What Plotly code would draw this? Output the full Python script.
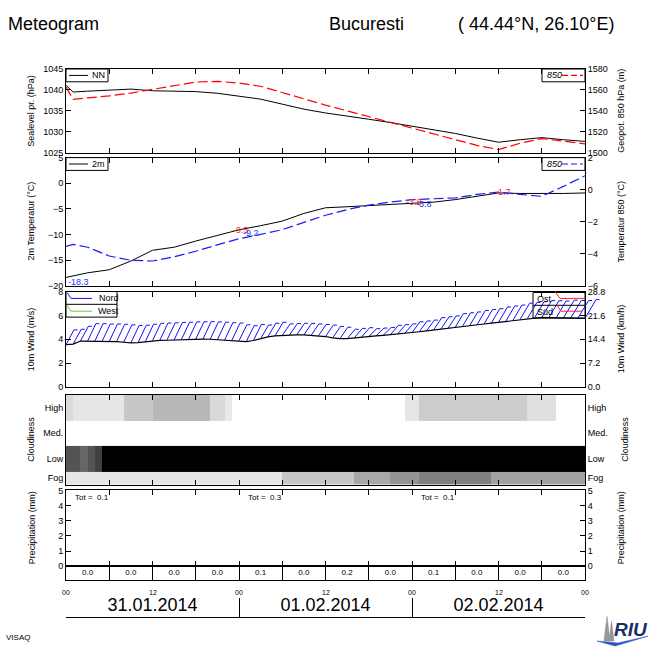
import math
import plotly.graph_objects as go

W = H = 650
FONT = "Liberation Sans, Arial, Helvetica, sans-serif"


def fx(x):
    return x / W


def fy(y):
    return 1 - y / H


# ---------------- data ----------------
hours = [0, 1, 3, 6, 9, 12, 15, 18, 21, 24, 27, 30, 33, 36, 39, 42, 45, 48, 51, 54, 57, 60, 63, 66, 69, 72]
slp_nn = [1041.1, 1039.5, 1039.7, 1040.0, 1040.2, 1039.8, 1039.7, 1039.6, 1039.2, 1038.5, 1037.8, 1036.6, 1035.4,
          1034.5, 1033.8, 1033.0, 1032.2, 1031.3, 1030.5, 1029.6, 1028.5, 1027.5, 1028.1, 1028.6, 1028.1, 1027.7]
geopot_850 = [1562.8, 1551.0, 1552.4, 1554.3, 1557.0, 1560.5, 1564.0, 1567.5, 1568.2, 1566.5, 1563.5, 1557.4, 1551.0,
              1545.5, 1540.0, 1534.5, 1529.0, 1524.2, 1518.0, 1512.5, 1507.0, 1503.0, 1509.0, 1513.5, 1511.0, 1508.5]
t_2m = [-18.4, -18.1, -17.5, -16.9, -15.2, -13.1, -12.5, -11.3, -10.2, -9.1, -8.3, -7.4, -5.9,
        -4.8, -4.6, -4.4, -4.2, -4.0, -3.7, -3.2, -2.5, -1.9, -2.0, -2.05, -2.0, -1.9]
t_850 = [-3.55, -3.42, -3.6, -4.15, -4.42, -4.46, -4.2, -3.85, -3.45, -3.07, -2.8, -2.5, -2.05,
         -1.6, -1.25, -0.97, -0.78, -0.63, -0.57, -0.52, -0.3, -0.15, -0.3, -0.42, 0.2, 0.87]

temp_label_hours = [0.0, 24.3, 25.6, 48.3, 49.6, 60.6]
temp_label_values = [-19.2, -9.1, -9.7, -3.65, -4.1, -1.75]
temp_label_texts = ["-18.3", "-9.5", "-9.2", "-3.8", "-3.8", "-1.7"]
temp_label_colors = ["#2233ff", "#ff2222", "#2233ff", "#ff2222", "#2233ff", "#ff2222"]

wind_hours = list(range(73))
wind_speed = [3.55, 3.6, 3.85, 3.85, 3.85, 3.82, 3.82, 3.8, 3.75, 3.7,
              3.72, 3.8, 3.88, 3.9, 3.92, 3.95, 3.97, 4.0, 4.01, 4.02,
              4.0, 3.97, 3.93, 3.9, 3.88, 3.8, 3.9, 4.05, 4.2, 4.28,
              4.32, 4.35, 4.37, 4.37, 4.33, 4.28, 4.23, 4.12, 4.05, 4.05,
              4.12, 4.18, 4.23, 4.28, 4.33, 4.38, 4.44, 4.5, 4.56, 4.63,
              4.7, 4.78, 4.85, 4.92, 5.0, 5.07, 5.14, 5.2, 5.28, 5.35,
              5.42, 5.5, 5.58, 5.67, 5.73, 5.79, 5.83, 5.82, 5.8, 5.79,
              5.77, 5.76, 5.75]
# wind direction (deg) and feather length, every 3 hours
barb_dir_deg = [28, 25, 25, 25, 25, 25, 25, 25, 26, 30, 34, 34, 34, 40, 45, 40, 36, 33, 30, 30, 30, 30, 30, 31, 30]
barb_len_px = [17, 19.5, 19.5, 19.5, 19.5, 19.5, 19.5, 19.5, 18, 16, 14.2, 14, 14, 12.5, 11.3, 12.5, 13.6, 15, 16.1,
               17, 18, 19, 19.7, 21, 22]

cloud_high = [0.145, 0.10, 0.10, 0.10, 0.10, 0.10, 0.10, 0.10, 0.22, 0.22, 0.22, 0.22,
              0.28, 0.28, 0.28, 0.28, 0.28, 0.28, 0.28, 0.28, 0.15, 0.15, 0.09, 0.0,
              0.0, 0.0, 0.0, 0.0, 0.0, 0.0, 0.0, 0.0, 0.0, 0.0, 0.0, 0.0,
              0.0, 0.0, 0.0, 0.0, 0.0, 0.0, 0.0, 0.0, 0.0, 0.0, 0.0, 0.10,
              0.10, 0.20, 0.20, 0.20, 0.20, 0.20, 0.20, 0.20, 0.20, 0.20, 0.20, 0.20,
              0.20, 0.20, 0.20, 0.20, 0.12, 0.12, 0.12, 0.12, 0.0, 0.0, 0.0, 0.0]
cloud_med = [0.0, 0.0, 0.0, 0.0, 0.0, 0.0, 0.0, 0.0, 0.0, 0.0, 0.0, 0.0,
             0.0, 0.0, 0.0, 0.0, 0.0, 0.0, 0.0, 0.0, 0.0, 0.0, 0.0, 0.0,
             0.0, 0.0, 0.0, 0.0, 0.0, 0.0, 0.0, 0.0, 0.0, 0.0, 0.0, 0.0,
             0.0, 0.0, 0.0, 0.0, 0.0, 0.0, 0.0, 0.0, 0.0, 0.0, 0.0, 0.0,
             0.0, 0.0, 0.0, 0.0, 0.0, 0.0, 0.0, 0.0, 0.0, 0.0, 0.0, 0.0,
             0.0, 0.0, 0.0, 0.0, 0.0, 0.0, 0.0, 0.0, 0.0, 0.0, 0.0, 0.0]
cloud_low = [0.67, 0.67, 0.60, 0.67, 0.75, 1.0, 1.0, 1.0, 1.0, 1.0, 1.0, 1.0,
             1.0, 1.0, 1.0, 1.0, 1.0, 1.0, 1.0, 1.0, 1.0, 1.0, 1.0, 1.0,
             1.0, 1.0, 1.0, 1.0, 1.0, 1.0, 1.0, 1.0, 1.0, 1.0, 1.0, 1.0,
             1.0, 1.0, 1.0, 1.0, 1.0, 1.0, 1.0, 1.0, 1.0, 1.0, 1.0, 1.0,
             1.0, 1.0, 1.0, 1.0, 1.0, 1.0, 1.0, 1.0, 1.0, 1.0, 1.0, 1.0,
             1.0, 1.0, 1.0, 1.0, 1.0, 1.0, 1.0, 1.0, 1.0, 1.0, 1.0, 1.0]
cloud_fog = [0.10, 0.10, 0.10, 0.10, 0.10, 0.10, 0.10, 0.10, 0.10, 0.10, 0.10, 0.10,
             0.10, 0.10, 0.10, 0.10, 0.10, 0.10, 0.10, 0.10, 0.10, 0.10, 0.10, 0.10,
             0.10, 0.10, 0.10, 0.10, 0.10, 0.10, 0.22, 0.22, 0.22, 0.22, 0.22, 0.22,
             0.22, 0.22, 0.22, 0.22, 0.34, 0.34, 0.34, 0.34, 0.34, 0.42, 0.42, 0.42,
             0.42, 0.50, 0.50, 0.50, 0.50, 0.50, 0.50, 0.50, 0.50, 0.50, 0.50, 0.37,
             0.37, 0.37, 0.37, 0.37, 0.37, 0.37, 0.37, 0.37, 0.37, 0.37, 0.37, 0.37]
cloud_edges_h = list(range(73))
cloud_level_edges = [0, 0.5, 1.5, 2.5, 3.5]
cloud_tickvals = [0.25, 1, 2, 3]
cloud_ticktext = ["Fog", "Low", "Med.", "High"]

precip_6h_hours = [3, 9, 15, 21, 27, 33, 39, 45, 51, 57, 63, 69]
precip_6h = [0.0, 0.0, 0.0, 0.0, 0.1, 0.0, 0.2, 0.0, 0.1, 0.0, 0.0, 0.0]
precip_tot_hours = [1, 25, 49]
precip_tot = [0.1, 0.3, 0.1]

date_hours = [12, 36, 60]
date_labels = ["31.01.2014", "01.02.2014", "02.02.2014"]
hour_tick_hours = [0, 12, 24, 36, 48, 60, 72]
hour_tick_labels = ["00", "12", "00", "12", "00", "12", "00"]

# ---------------- layout geometry ----------------
XL, XR = 66, 585
XDOM = [fx(XL), fx(XR)]
PANELS = {1: (65, 150), 2: (155, 285), 3: (291, 388), 4: (396, 487), 5: (493, 570)}
PXH = (XR - XL) / 72.0  # px per hour
PXV = (388 - 291) / 8.0  # px per m/s in wind panel


def ydom(k):
    return [fy(PANELS[k][1]), fy(PANELS[k][0])]


tickfont = dict(family=FONT, size=9, color="black")

fig = go.Figure()

# panel 1: pressure
fig.add_trace(go.Scatter(x=hours, y=slp_nn, mode="lines", line=dict(color="black", width=1),
                         xaxis="x", yaxis="y", showlegend=False))
fig.add_trace(go.Scatter(x=hours, y=geopot_850, mode="lines", line=dict(color="#ff0000", width=1.2, dash="10px,4px"),
                         xaxis="x", yaxis="y2", showlegend=False))
# panel 2: temperature
fig.add_trace(go.Scatter(x=hours, y=t_2m, mode="lines", line=dict(color="black", width=1),
                         xaxis="x2", yaxis="y3", showlegend=False))
fig.add_trace(go.Scatter(x=hours, y=t_850, mode="lines", line=dict(color="#1a1aff", width=1.2, dash="10px,4px"),
                         xaxis="x2", yaxis="y4", showlegend=False))

# panel 3: wind feathers + speed
bx, by = [], []
for h, s in zip(wind_hours, wind_speed):
    i = min(h // 3, len(barb_dir_deg) - 1)
    d = math.radians(barb_dir_deg[i])
    L = barb_len_px[i]
    x1 = h + L * math.sin(d) / PXH
    y1 = s + L * math.cos(d) / PXV
    bx += [h, x1, x1 + 3.5 / PXH, None]
    by += [s, y1, y1, None]
fig.add_trace(go.Scatter(x=bx, y=by, mode="lines", line=dict(color="#1010ff", width=1),
                         xaxis="x8", yaxis="y5", showlegend=False))
fig.add_trace(go.Scatter(x=wind_hours, y=wind_speed, mode="lines", line=dict(color="black", width=1.2),
                         xaxis="x8", yaxis="y5", showlegend=False))
fig.add_trace(go.Scatter(x=[], y=[], xaxis="x3", yaxis="y6", showlegend=False))

# panel 4: cloudiness
fig.add_trace(go.Heatmap(x=cloud_edges_h, y=cloud_level_edges,
                         z=[cloud_fog, cloud_low, cloud_med, cloud_high],
                         zmin=0, zmax=1, colorscale=[[0, "#ffffff"], [1, "#000000"]],
                         showscale=False, hoverinfo="skip", xaxis="x4", yaxis="y7"))
fig.add_trace(go.Scatter(x=[], y=[], xaxis="x4", yaxis="y8", showlegend=False))

# panel 5: precipitation
fig.add_trace(go.Scatter(x=[], y=[], xaxis="x5", yaxis="y9", showlegend=False))
fig.add_trace(go.Scatter(x=[], y=[], xaxis="x5", yaxis="y10", showlegend=False))
fig.add_trace(go.Scatter(x=precip_6h_hours, y=[0.5] * len(precip_6h), mode="text",
                         text=[f"{v:.1f}" for v in precip_6h],
                         textfont=dict(family=FONT, size=8, color="black"),
                         xaxis="x6", yaxis="y11", showlegend=False, cliponaxis=False))

# date row
fig.add_trace(go.Scatter(x=date_hours, y=[0.6] * 3, mode="text", text=date_labels,
                         textfont=dict(family=FONT, size=18, color="black"),
                         xaxis="x7", yaxis="y12", showlegend=False, cliponaxis=False))


def xax(anchor):
    return dict(domain=XDOM, range=[0, 72], anchor=anchor, tickmode="linear", tick0=0, dtick=6,
                ticks="inside", ticklen=5, tickcolor="black", showline=True, linecolor="black",
                linewidth=1, mirror="ticks", showticklabels=False, showgrid=False, zeroline=False)


def yax(dom, rng, anchor, side="left", overlay=None, **kw):
    d = dict(range=rng, anchor=anchor, side=side, ticks="inside", ticklen=5, tickcolor="black",
             showline=True, linecolor="black", linewidth=1, showgrid=False, zeroline=False,
             tickfont=tickfont)
    if overlay:
        d["overlaying"] = overlay
    else:
        d["domain"] = dom
    d.update(kw)
    return d


layout = dict(
    width=W, height=H, margin=dict(l=0, r=0, t=0, b=0), paper_bgcolor="white", plot_bgcolor="rgba(0,0,0,0)",
    showlegend=False, font=dict(family=FONT, color="black"),
    xaxis=xax("y"), xaxis2=xax("y3"), xaxis3=xax("y5"), xaxis4=xax("y7"), xaxis5=xax("y9"),
    xaxis6=dict(domain=XDOM, range=[0, 72], anchor="y11", tickmode="linear", tick0=0, dtick=6,
                ticks="inside", ticklen=14, tickcolor="black", showline=True, linecolor="black",
                mirror=True, showticklabels=False, showgrid=False, zeroline=False),
    xaxis7=dict(domain=XDOM, range=[0, 72], anchor="y12", tickvals=[0, 24, 48, 72],
                ticks="inside", ticklen=19, tickcolor="black", showline=True, linecolor="black",
                showticklabels=False, showgrid=False, zeroline=False),
    xaxis8=dict(domain=[fx(XL), fx(625)], range=[0, 72 * (625 - XL) / (XR - XL)], anchor="y5",
                visible=False),
    yaxis=yax(ydom(1), [1025, 1045], "x", dtick=5),
    yaxis2=yax(None, [1500, 1580], "x", side="right", overlay="y", dtick=20),
    yaxis3=yax(ydom(2), [-20, 5], "x2", dtick=5),
    yaxis4=yax(None, [-6, 2], "x2", side="right", overlay="y3", dtick=2),
    yaxis5=yax(ydom(3), [0, 8], "x3", dtick=2),
    yaxis6=yax(None, [0, 28.8], "x3", side="right", overlay="y5",
               tickvals=[0, 7.2, 14.4, 21.6, 28.8], tickformat=".1f"),
    yaxis7=yax(ydom(4), [0, 3.5], "x4", tickvals=cloud_tickvals, ticktext=cloud_ticktext, ticks=""),
    yaxis8=yax(None, [0, 3.5], "x4", side="right", overlay="y7", tickvals=cloud_tickvals,
               ticktext=cloud_ticktext, ticks=""),
    yaxis9=yax(ydom(5), [0, 5], "x5", dtick=1),
    yaxis10=yax(None, [0, 5], "x5", side="right", overlay="y9", dtick=1),
    yaxis11=dict(domain=[fy(584), fy(570)], range=[0, 1], anchor="x6", showline=True, linecolor="black",
                 mirror=True, ticks="", showticklabels=False, showgrid=False, zeroline=False),
    yaxis12=dict(domain=[fy(622), fy(603)], range=[0, 1], anchor="x7", visible=False),
)
fig.update_layout(**layout)

ann = []


def text(x, y, s, size=9, xa="left", color="black", angle=0, **kw):
    d = dict(x=fx(x), y=fy(y), xref="paper", yref="paper", text=s, showarrow=False, xanchor=xa,
             yanchor="middle", textangle=angle, font=dict(family=FONT, size=size, color=color))
    d.update(kw)
    ann.append(d)


# titles
text(6, 19, "Meteogram", 18)
text(327, 19, "Bucuresti", 18)
text(456, 19, "( 44.44°N, 26.10°E)", 18)
text(4, 642, "VISAQ", 8)

# hour labels above the date row
for h, s in zip(hour_tick_hours, hour_tick_labels):
    ann.append(dict(x=h, y=fy(597), xref="x7", yref="paper", text=s, showarrow=False,
                    xanchor="center", yanchor="middle", font=dict(family=FONT, size=7, color="black")))

# axis titles
left_titles = ["Sealevel pr. (hPa)", "2m Temperatur (°C)", "10m Wind (m/s)", "Cloudiness", "Precipitation (mm)"]
right_titles = ["Geopot. 850 hPa (m)", "Temperatur 850 (°C)", "10m Wind (km/h)", "Cloudiness", "Precipitation (mm)"]
left_x = [31, 31, 31, 31, 32]
right_x = [621, 621, 621, 625, 621]
for k in range(1, 6):
    yc = (PANELS[k][0] + PANELS[k][1]) / 2
    text(left_x[k - 1], yc, left_titles[k - 1], 9, xa="center", angle=-90)
    text(right_x[k - 1], yc, right_titles[k - 1], 9, xa="center", angle=-90)

# temperature extreme labels
for h, v, s, c in zip(temp_label_hours, temp_label_values, temp_label_texts, temp_label_colors):
    ann.append(dict(x=h, y=v, xref="x2", yref="y3", text=s, showarrow=False,
                    xanchor="left" if h == 0 else "center", yanchor="middle",
                    font=dict(family=FONT, size=9, color=c)))

# precipitation totals
for h, v in zip(precip_tot_hours, precip_tot):
    ann.append(dict(x=h, y=4.55, xref="x5", yref="y9", text=f"Tot =  {v:.1f}", showarrow=False,
                    xanchor="left", yanchor="middle", font=dict(family=FONT, size=8, color="black")))

# legends
shapes = []


def rect(x0, y0, x1, y1, fill="white", layer="above"):
    shapes.append(dict(type="rect", xref="paper", yref="paper", x0=fx(x0), x1=fx(x1), y0=fy(y1), y1=fy(y0),
                       line=dict(color="black", width=1), fillcolor=fill, layer=layer))


def poly(pts, color, width=1, dash="solid", fill=None, close=False):
    p = "M " + " L ".join(f"{fx(a):.5f},{fy(b):.5f}" for a, b in pts)
    if close:
        p += " Z"
    d = dict(type="path", xref="paper", yref="paper", path=p, line=dict(color=color, width=width, dash=dash),
             layer="above")
    if fill:
        d["fillcolor"] = fill
    shapes.append(d)


rect(66, 65, 108, 78)
poly([(69, 71.5), (88, 71.5)], "black")
text(90, 71.5, "NN", 9)
rect(542, 65, 585, 78)
text(545, 71.5, "<i>850</i>", 9)
poly([(562, 71.5), (583, 71.5)], "#ff0000", 1.2, "6px,3px")

rect(66, 155, 108, 168)
poly([(69, 161.5), (88, 161.5)], "black")
text(90, 161.5, "2m", 9)
rect(542, 155, 585, 168)
text(545, 161.5, "<i>850</i>", 9)
poly([(562, 161.5), (583, 161.5)], "#1a1aff", 1.2, "6px,3px")

rect(66, 291, 117, 317)
poly([(66, 304), (117, 304)], "black")
poly([(67, 292), (71, 298), (92, 298)], "#1010ff")
text(97, 298, "Nord", 9)
poly([(67, 305), (71, 311), (92, 311)], "#66cc33")
text(96, 311, "West", 9)

rect(533, 292, 585, 318, fill="rgba(0,0,0,0)", layer="below")
poly([(533, 305), (585, 305)], "black")
text(535, 299, "Ost", 9)
poly([(555, 291), (560, 298), (585, 298)], "#ff2222")
text(535, 312, "Süd", 9)
poly([(557, 305), (561, 311), (582, 311)], "#ff2222")

# RIU logo
poly([(604, 646), (607, 621), (610, 646)], "#888888", 0.5, fill="#999999", close=True)
poly([(609, 646), (611.5, 626), (614, 646)], "#888888", 0.5, fill="#999999", close=True)
poly([(597, 646), (615, 651), (648, 641), (618, 648), (597, 646)], "#2a52c9", 0.5, fill="#2a52c9", close=True)
text(631, 634, "<b><i>RIU</i></b>", 19, xa="center", color="#1b2d6e")

fig.update_layout(annotations=ann, shapes=shapes)
fig.write_html("out.html", config={"displayModeBar": False},
               post_script="document.body.style.margin='0px';")
